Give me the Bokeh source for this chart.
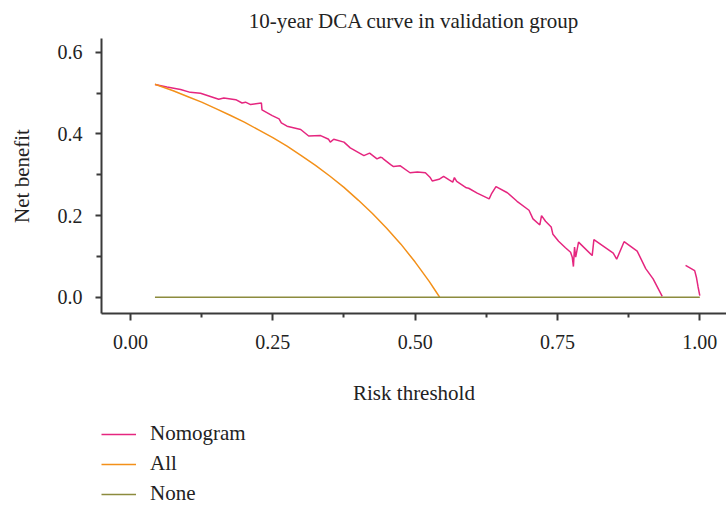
import math
from bokeh.plotting import figure
from bokeh.layouts import column
from bokeh.models import (Range1d, FixedTicker, Legend, LegendItem)
from bokeh.embed import file_html
from bokeh.resources import INLINE

# ---------------- data ----------------
nan = float("nan")
nom_x = [0.043, 0.064, 0.088, 0.105, 0.123, 0.155, 0.164, 0.185, 0.196, 0.202,
         0.211, 0.230, 0.231, 0.249, 0.261, 0.265, 0.275, 0.299, 0.313, 0.334,
         0.348, 0.351, 0.357, 0.375, 0.386, 0.410, 0.420, 0.433, 0.439, 0.442,
         0.444, 0.457, 0.462, 0.474, 0.491, 0.504, 0.518, 0.526, 0.530, 0.542,
         0.550, 0.559, 0.566, 0.569, 0.573, 0.590, 0.594, 0.609, 0.630, 0.634,
         0.642, 0.662, 0.679, 0.700, 0.707, 0.719, 0.722, 0.729, 0.739, 0.742,
         0.752, 0.764, 0.773, 0.776, 0.778, 0.780, 0.782, 0.787, 0.811, 0.814,
         0.848, 0.854, 0.867, 0.890, 0.905, 0.918, 0.934, nan,
         0.975, 0.991, 0.994, 0.997, 1.000]
nom_y = [0.521, 0.515, 0.509, 0.502, 0.500, 0.485, 0.488, 0.484, 0.476, 0.478,
         0.472, 0.476, 0.459, 0.445, 0.437, 0.427, 0.419, 0.411, 0.395, 0.396,
         0.387, 0.380, 0.387, 0.380, 0.366, 0.347, 0.353, 0.339, 0.343, 0.342,
         0.339, 0.325, 0.320, 0.322, 0.305, 0.307, 0.305, 0.294, 0.285, 0.289,
         0.296, 0.288, 0.282, 0.293, 0.284, 0.268, 0.267, 0.255, 0.241, 0.253,
         0.271, 0.256, 0.235, 0.213, 0.192, 0.177, 0.200, 0.186, 0.172, 0.154,
         0.137, 0.121, 0.110, 0.098, 0.075, 0.123, 0.098, 0.135, 0.102, 0.141,
         0.108, 0.093, 0.136, 0.113, 0.070, 0.045, 0.002, nan,
         0.078, 0.065, 0.049, 0.025, 0.004]

all_x = [0.043, 0.075, 0.100, 0.125, 0.150, 0.175, 0.200, 0.225, 0.250, 0.275,
         0.300, 0.325, 0.350, 0.375, 0.400, 0.425, 0.450, 0.475, 0.500, 0.510,
         0.525, 0.535, 0.543]
all_y = [0.522, 0.506, 0.492, 0.478, 0.462, 0.446, 0.429, 0.410, 0.391, 0.370,
         0.347, 0.323, 0.297, 0.269, 0.238, 0.205, 0.169, 0.130, 0.086, 0.067,
         0.038, 0.017, 0.000]

none_x = [0.043, 1.000]
none_y = [0.0, 0.0]

x_ticks = [0.0, 0.25, 0.5, 0.75, 1.0]
x_tick_labels = ["0.00", "0.25", "0.50", "0.75", "1.00"]
x_minor = [0.125, 0.375, 0.625, 0.875]
y_ticks = [0.0, 0.2, 0.4, 0.6]
y_tick_labels = ["0.0", "0.2", "0.4", "0.6"]
y_minor = [0.1, 0.3, 0.5]

series_names = ["Nomogram", "All", "None"]

# ---------------- style ----------------
FONT = "Liberation Serif"
TXT = "#222222"
C_NOM = "#E5267F"
C_ALL = "#F39019"
C_NONE = "#8C8B3D"
AX = "#3a3a3a"

p = figure(frame_width=625, frame_height=275, output_backend="svg",
           toolbar_location=None,
           x_range=Range1d(-0.0509, 1.0469), y_range=Range1d(-0.040, 0.634),
           min_border_left=101, min_border_right=0, min_border_top=38,
           min_border_bottom=97)
p.outline_line_color = None
p.xgrid.visible = False
p.ygrid.visible = False

p.title.text = "10-year DCA curve in validation group"
p.title.text_font = FONT
p.title.text_font_size = "21px"
p.title.text_font_style = "normal"
p.title.text_color = TXT
p.title.align = "center"
p.title.standoff = 12

p.line(nom_x, nom_y, line_color=C_NOM, line_width=1.5)
p.line(all_x, all_y, line_color=C_ALL, line_width=1.5)
p.line(none_x, none_y, line_color=C_NONE, line_width=1.5)

# x axis
xa = p.xaxis[0]
xa.ticker = FixedTicker(ticks=x_ticks, minor_ticks=x_minor)
xa.major_label_overrides = dict(zip(x_ticks, x_tick_labels))
xa.major_label_text_font = FONT
xa.major_label_text_font_size = "20px"
xa.major_label_text_color = TXT
xa.major_label_standoff = 14
xa.axis_line_color = AX
xa.axis_line_width = 2
xa.major_tick_line_color = AX
xa.major_tick_line_width = 2
xa.major_tick_out = 7
xa.major_tick_in = 0
xa.minor_tick_line_color = AX
xa.minor_tick_line_width = 2
xa.minor_tick_out = 4
xa.minor_tick_in = 0
xa.axis_label = "Risk threshold"
xa.axis_label_text_font = FONT
xa.axis_label_text_font_size = "21px"
xa.axis_label_text_font_style = "normal"
xa.axis_label_text_color = TXT
xa.axis_label_standoff = 29

# y axis
ya = p.yaxis[0]
ya.ticker = FixedTicker(ticks=y_ticks, minor_ticks=y_minor)
ya.major_label_overrides = dict(zip(y_ticks, y_tick_labels))
ya.major_label_text_font = FONT
ya.major_label_text_font_size = "20px"
ya.major_label_text_color = TXT
ya.major_label_standoff = 13
ya.axis_line_color = AX
ya.axis_line_width = 2
ya.major_tick_line_color = AX
ya.major_tick_line_width = 2
ya.major_tick_out = 6
ya.major_tick_in = 0
ya.minor_tick_line_color = AX
ya.minor_tick_line_width = 2
ya.minor_tick_out = 5
ya.minor_tick_in = 0
ya.axis_label = "Net benefit"
ya.axis_label_text_font = FONT
ya.axis_label_text_font_size = "21px"
ya.axis_label_text_font_style = "normal"
ya.axis_label_text_color = TXT
ya.axis_label_standoff = 21

# ---------------- legend strip (separate small figure, no axes) ----------
# same series drawn far outside this strip's view; only the legend shows
q = figure(width=726, height=95, output_backend="svg", toolbar_location=None,
           x_axis_type=None, y_axis_type=None, min_border=0,
           x_range=Range1d(10, 11), y_range=Range1d(10, 11))
q.outline_line_color = None
q.xgrid.visible = False
q.ygrid.visible = False
lr_nom = q.line(nom_x, nom_y, line_color=C_NOM, line_width=1.5)
lr_all = q.line(all_x, all_y, line_color=C_ALL, line_width=1.5)
lr_none = q.line(none_x, none_y, line_color=C_NONE, line_width=1.5)

legend = Legend(items=[LegendItem(label=series_names[0], renderers=[lr_nom]),
                       LegendItem(label=series_names[1], renderers=[lr_all]),
                       LegendItem(label=series_names[2], renderers=[lr_none])],
                location=(0, -1), orientation="vertical",
                glyph_width=35, glyph_height=20, label_standoff=14,
                spacing=5, padding=0, margin=0,
                border_line_color=None, background_fill_alpha=0,
                label_text_font=FONT, label_text_font_size="21px",
                label_text_color=TXT)
q.add_layout(legend)

layout = column(p, q, spacing=0)
open("out.html", "w").write(file_html(layout, INLINE))
